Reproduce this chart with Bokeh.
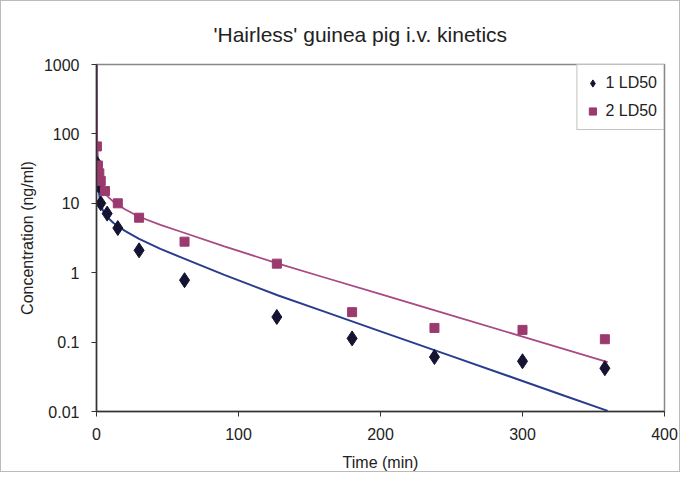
from bokeh.plotting import figure
from bokeh.models import Range1d, FixedTicker, Legend, LegendItem, Title
from bokeh.embed import file_html
from bokeh.resources import INLINE

t_ld1 = [0.5, 1.5, 3, 7.5, 15, 30, 62, 127, 180, 238, 300, 358]
c_ld1 = [37, 18, 10, 7.1, 4.4, 2.1, 0.78, 0.23, 0.113, 0.061, 0.053, 0.042]

t_ld2 = [0.3, 1, 2, 3, 6, 15, 30, 62, 127, 180, 238, 300, 358]
c_ld2 = [66, 35, 27, 21, 15, 10, 6.2, 2.8, 1.35, 0.27, 0.16, 0.15, 0.11]

# Fitted curves
t_fit = [0, 0.2, 0.5, 1, 2, 3, 5, 8, 12, 20, 30, 45, 60, 90, 128, 160, 200, 250, 300, 330, 360]
fit_ld1 = [2000, 120, 40, 22, 13, 9.5, 7.5, 6.2, 5.2, 4.0, 3.07, 2.2, 1.65, 0.93, 0.47,
           0.277, 0.143, 0.0628, 0.0275, 0.0167, 0.0102]
fit_ld2 = [3000, 250, 80, 40, 24, 19, 15, 12.5, 10.5, 8.2, 6.4, 4.9, 3.86, 2.39, 1.35,
           0.86, 0.49, 0.242, 0.120, 0.0787, 0.0516]

x_ticks = [0, 100, 200, 300, 400]
y_ticks = [0.01, 0.1, 1, 10, 100, 1000]
y_tick_labels = {0.01: "0.01", 0.1: "0.1", 1: "1", 10: "10", 100: "100", 1000: "1000"}
title_text = "'Hairless' guinea pig i.v. kinetics"

FONT = "Liberation Sans"
TXT = "#222222"

p = figure(width=680, height=472, y_axis_type="log", output_backend="svg",
           toolbar_location=None, x_range=Range1d(0, 400), y_range=Range1d(0.01, 1000),
           min_border_left=95, min_border_right=17, min_border_top=63, min_border_bottom=60)
p.title = None
p.add_layout(Title(text=title_text, align="left", vertical_align="bottom",
                   text_font=FONT, text_font_size="21px", text_font_style="normal",
                   text_color=TXT, standoff=38, offset=117), "above")

p.grid.visible = False
p.outline_line_color = "#888888"
p.outline_line_width = 1.5
p.background_fill_color = "white"
p.border_fill_color = "white"
p.styles = {"border": "1px solid #bbbbbb"}

for ax in (p.xaxis[0], p.yaxis[0]):
    ax.axis_line_color = "#333333"
    ax.axis_line_width = 1.5
    ax.major_tick_line_color = "#333333"
    ax.major_tick_out = 5
    ax.major_tick_in = 0
    ax.minor_tick_line_color = None
    ax.major_label_text_font = FONT
    ax.major_label_text_font_size = "16px"
    ax.major_label_text_color = TXT
    ax.axis_label_text_font = FONT
    ax.axis_label_text_font_size = "16px"
    ax.axis_label_text_font_style = "normal"
    ax.axis_label_text_color = TXT

p.xaxis.ticker = FixedTicker(ticks=x_ticks)
p.xaxis.major_label_standoff = 11
p.xaxis.axis_label = "Time (min)"
p.xaxis.axis_label_standoff = 11

p.yaxis.ticker = FixedTicker(ticks=y_ticks)
p.yaxis.major_label_overrides = y_tick_labels
p.yaxis.major_label_standoff = 12
p.yaxis.axis_label = "Concentration (ng/ml)"
p.yaxis.axis_label_standoff = 5

l1 = p.line(t_fit, fit_ld1, line_color="#2a3c8e", line_width=2)
l2 = p.line(t_fit, fit_ld2, line_color="#a84a84", line_width=1.8)
r1 = p.scatter(t_ld1, c_ld1, marker="diamond", size=15, fill_color="#141432",
               line_color="#141432")
r2 = p.scatter(t_ld2, c_ld2, marker="square", size=9, fill_color="#9b3a6e",
               line_color="#9b3a6e")

legend = Legend(items=[LegendItem(label="1 LD50", renderers=[r1]),
                       LegendItem(label="2 LD50", renderers=[r2])],
                location="top_right", margin=0, padding=6, spacing=4,
                label_height=24, glyph_height=24, glyph_width=18, label_standoff=4,
                label_text_font=FONT, label_text_font_size="16px",
                label_text_color=TXT, border_line_color="#888888",
                border_line_width=1.5, background_fill_color="white")
p.add_layout(legend)

open("out.html", "w").write(file_html(p, INLINE))
